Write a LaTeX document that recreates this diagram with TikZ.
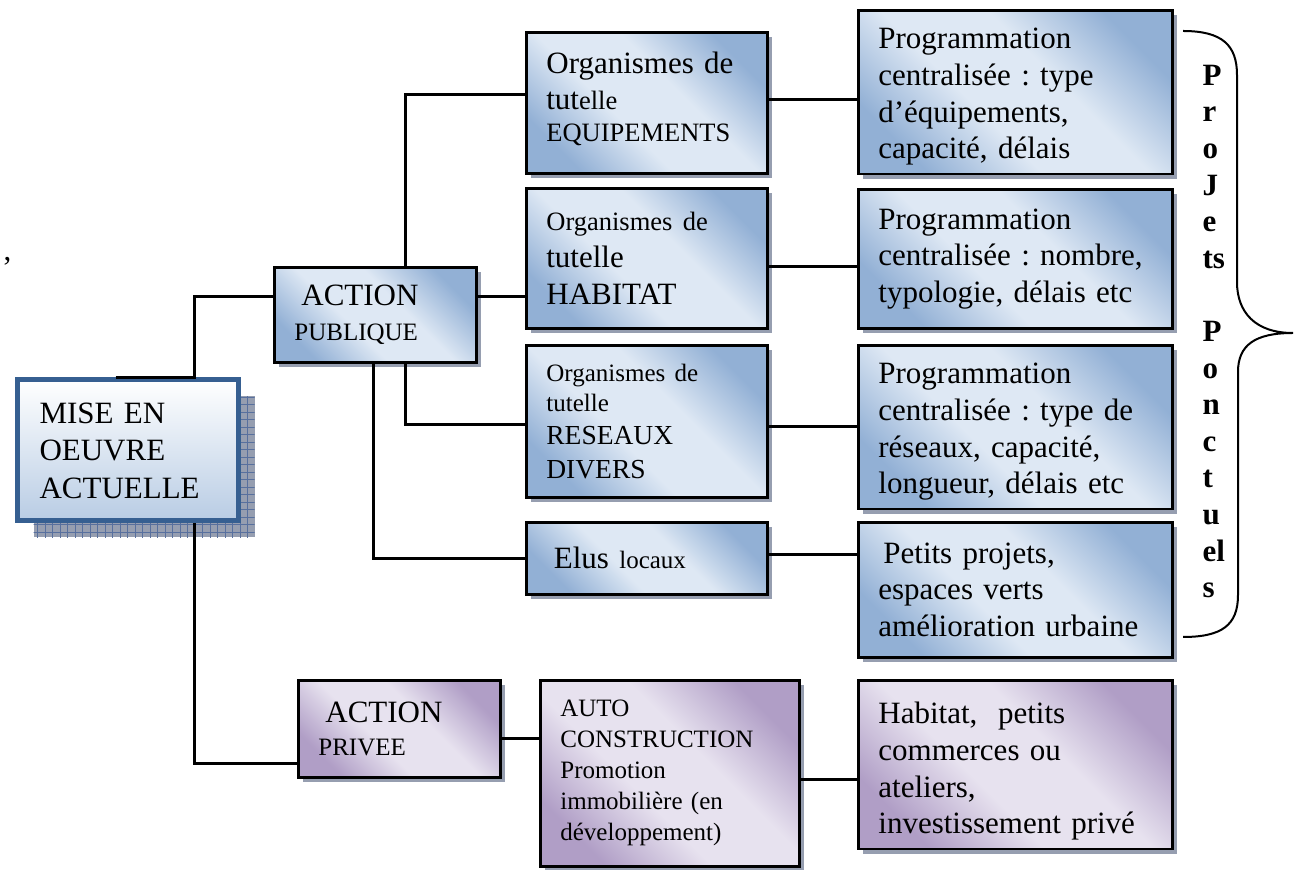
\documentclass[tikz,border=0pt]{standalone}
\usepackage{fontspec}
\setmainfont{Liberation Serif}
\usepackage{tikz}
\usetikzlibrary{positioning,calc,shadows,patterns,backgrounds}
\frenchspacing

\definecolor{bluedark}{RGB}{146,176,213}
\definecolor{bluelight}{RGB}{222,232,244}
\definecolor{mauvedark}{RGB}{176,158,198}
\definecolor{mauvelight}{RGB}{231,226,239}
\definecolor{rootedge}{RGB}{54,95,145}
\definecolor{rootfill}{RGB}{184,204,228}
\definecolor{shadegray}{RGB}{150,158,176}
\definecolor{shadeline}{RGB}{88,112,158}

\pgfdeclareverticalshading{bluecorner}{100bp}{color(0bp)=(bluedark); color(25bp)=(bluedark);
  color(42bp)=(bluelight); color(58bp)=(bluelight); color(75bp)=(bluedark); color(100bp)=(bluedark)}
\pgfdeclareverticalshading{mauvecorner}{100bp}{color(0bp)=(mauvedark); color(25bp)=(mauvedark);
  color(42bp)=(mauvelight); color(58bp)=(mauvelight); color(75bp)=(mauvedark); color(100bp)=(mauvedark)}

\newcommand{\smtxt}[1]{{\fontsize{10pt}{12.4pt}\selectfont #1}}
\newcommand{\mdtxt}[1]{{\fontsize{10.6pt}{12.4pt}\selectfont #1}}
\newcommand{\tallstrut}{\rule{0pt}{12pt}}
\newcommand{\deepstrut}{\rule[-5pt]{0pt}{0pt}}

\tikzset{
  chart/box/.style={draw, line width=1.1pt, anchor=north west, align=left, inner xsep=8pt,
    font=\fontsize{12.4pt}{14.7pt}\selectfont,
    drop shadow={shadow xshift=2pt, shadow yshift=-2pt, opacity=1, fill=shadegray}},
  chart/blue/.style={chart/box, shade, shading=bluecorner, shading angle=-45},
  chart/mauve/.style={chart/box, shade, shading=mauvecorner, shading angle=-45},
  chart/root/.style={draw=rootedge, line width=2pt, anchor=north west, align=left, inner xsep=9pt,
    font=\fontsize{12.4pt}{15pt}\selectfont, top color=white, bottom color=rootfill,
    drop shadow={shadow xshift=6.6pt, shadow yshift=-6.6pt, opacity=1, fill=shadegray,
      postaction={pattern=grid, pattern color=shadeline}}},
  chart/line/.style={line width=1.2pt},
  chart/brace/.style={line width=0.8pt},
  chart/vtext/.style={anchor=north west, inner sep=0pt, align=left, font=\bfseries\fontsize{12.4pt}{14.64pt}\selectfont}
}

\begin{document}
\begin{tikzpicture}[x=0.4pt, y=-0.4pt]
  \useasboundingbox (0,0) rectangle (1301,870);

  \node[anchor=base west, inner sep=0pt, font=\fontsize{12.4pt}{14.6pt}\selectfont] (stray) at (3,261) {,};

  % left column
  \node[chart/root, text width=70.4pt, minimum height=56.4pt] (root) at (14.5,377.5) {MISE EN\\OEUVRE\\ACTUELLE};
  \node[chart/blue, text width=64.8pt, minimum height=38pt] (public) at (273,266) {\hspace{2.8pt}ACTION\\[-1pt]\smtxt{PUBLIQUE}};
  \node[chart/mauve, text width=64.8pt, minimum height=38.8pt] (private) at (297,679) {\hspace{2.8pt}ACTION\\[-1.4pt]\smtxt{PRIVEE}};

  % organismes
  \node[chart/blue, text width=80.4pt, minimum height=56.4pt] (equip) at (525,31) {Organismes de\\tut\mdtxt{elle}\\[-2pt]\mdtxt{EQUIPEMENTS}\deepstrut};
  \node[chart/blue, text width=80.4pt, minimum height=56pt] (habitat) at (525,187) {\mdtxt{Organismes de}\\tutelle\\HABITAT};
  \node[chart/blue, text width=80.4pt, minimum height=60.8pt, font=\fontsize{11pt}{13.4pt}\selectfont] (network) at (525,344) {\smtxt{Organismes de}\\[-1.4pt]\smtxt{tutelle}\\RESEAUX\\DIVERS};
  \node[chart/blue, text width=80.4pt, minimum height=28.8pt] (elected) at (525,521) {\hspace{3pt}Elus \smtxt{locaux}};
  \node[chart/mauve, text width=87.6pt, minimum height=74.4pt, font=\fontsize{10pt}{12.4pt}\selectfont] (autocons) at (539,679) {AUTO\\CONSTRUCTION\\Promotion\\immobilière (en\\développement)};

  % programmation
  \node[chart/blue, text width=109.6pt, minimum height=65.2pt] (prog-equip) at (857,9) {\tallstrut Programmation\\centralisée : type\\d’équipements,\\capacité, délais};
  \node[chart/blue, text width=109.6pt, minimum height=55.6pt] (prog-habitat) at (857,188) {Programmation\\centralisée : nombre,\\typologie, délais etc};
  \node[chart/blue, text width=109.6pt, minimum height=63.6pt] (prog-network) at (857,344) {\tallstrut Programmation\\centralisée : type de\\réseaux, capacité,\\longueur, délais etc};
  \node[chart/blue, text width=109.6pt, minimum height=54pt] (small-proj) at (857,521) {\hspace{2pt}Petits projets,\\espaces verts\\amélioration urbaine};
  \node[chart/mauve, text width=109.6pt, minimum height=65.2pt] (private-out) at (857,679) {\rule{0pt}{14pt}Habitat,\ \ petits\\commerces ou\\ateliers,\\investissement privé};

  % connectors
  \coordinate (root-top) at ($(root.north)+(-12,0)$);
  \coordinate (trunk-top) at ($(root.north)+(67,0)$);
  \coordinate (trunk-bot) at ($(root.south)+(67,0)$);
  \draw[chart/line] (root-top) -- (trunk-top) |- ($(public.west)+(0,-18)$);
  \draw[chart/line] (trunk-bot) |- ($(private.west)+(0,35)$);

  \coordinate (pub-up) at ($(public.north)+(30,0)$);
  \coordinate (pub-right) at ($(public.east)+(0,-18)$);
  \coordinate (pub-down) at ($(public.south)+(30,0)$);
  \coordinate (pub-down2) at ($(public.south)+(-2,0)$);
  \draw[chart/line] (pub-up) |- ($(equip.west)+(0,-8)$);
  \draw[chart/line] (pub-right) -- (pub-right -| habitat.west);
  \draw[chart/line] (pub-down) |- ($(network.west)+(0,3)$);
  \draw[chart/line] (pub-down2) |- (elected.west);

  \coordinate (equip-out) at ($(equip.east)+(0,-3)$);
  \coordinate (habitat-out) at ($(habitat.east)+(0,8)$);
  \coordinate (network-out) at ($(network.east)+(0,5)$);
  \coordinate (elected-out) at ($(elected.east)+(0,-4)$);
  \coordinate (private-r) at ($(private.east)+(0,10)$);
  \coordinate (autocons-out) at ($(autocons.east)+(0,6)$);
  \draw[chart/line] (equip-out) -- (equip-out -| prog-equip.west);
  \draw[chart/line] (habitat-out) -- (habitat-out -| prog-habitat.west);
  \draw[chart/line] (network-out) -- (network-out -| prog-network.west);
  \draw[chart/line] (elected-out) -- (elected-out -| small-proj.west);
  \draw[chart/line] (private-r) -- (private-r -| autocons.west);
  \draw[chart/line] (autocons-out) -- (autocons-out -| private-out.west);

  % brace + vertical label
  \draw[chart/brace] (1183,31) .. controls (1222,31) and (1237,45) .. (1237,75) -- (1237,282)
    .. controls (1237,312) and (1255,333) .. (1293,333)
    .. controls (1255,333) and (1238,345) .. (1238,372) -- (1238,595)
    .. controls (1238,625) and (1222,637) .. (1183,637);
  \node[chart/vtext] (ponctuels) at (1202,64.5) {P\\r\\o\\J\\e\\ts\\[14.64pt]P\\o\\n\\c\\t\\u\\el\\s};
\end{tikzpicture}
\end{document}
